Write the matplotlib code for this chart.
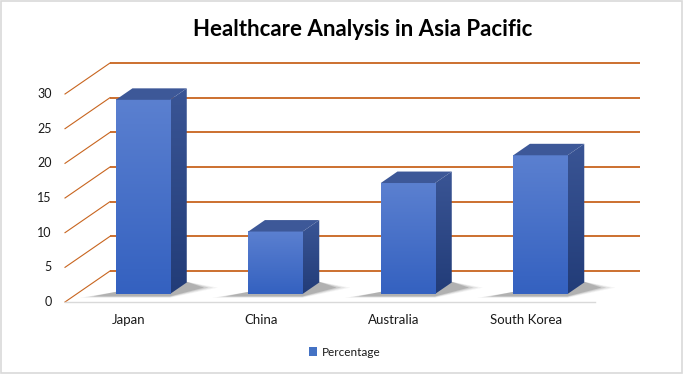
import numpy as np
import matplotlib
matplotlib.use("Agg")
import matplotlib.pyplot as plt
from matplotlib.patches import Polygon, Rectangle, Patch
from matplotlib.colors import LinearSegmentedColormap

# ---------------- data ----------------
categories = ["Japan", "China", "Australia", "South Korea"]
values = [28, 9, 16, 20]
series_name = "Percentage"
yticks = [0, 5, 10, 15, 20, 25, 30]
title = "Healthcare Analysis in Asia Pacific"

# ---------------- figure / projection ----------------
W, H = 696, 387
fig = plt.figure(figsize=(W / 100, H / 100), dpi=100)
ax = fig.add_axes([0, 0, 1, 1])
ax.set_axis_off()

X0, PXC = 65.0, 132.5     # front-left floor pixel x, pixels per category
Y0, PXU = 302.0, 6.933    # front floor pixel y (from top), pixels per value unit
ax.set_xlim(-X0 / PXC - 0.5, (W - X0) / PXC - 0.5)
ax.set_ylim((Y0 - H) / PXU, Y0 / PXU)

DX, DY = 45 / PXC, 31 / PXU   # full depth offset in data units
n = len(categories)
xl, xr = -0.5, n - 0.5

grid_c = "#c8651f"
for v in yticks:
    ax.plot([xl + DX, xr + DX], [v + DY, v + DY], color=grid_c, lw=1.3,
            solid_capstyle="butt", zorder=1)
    ax.plot([xl, xl + DX], [v, v + DY], color=grid_c, lw=0.8, zorder=1)
    ax.text(xl - 0.1, v, str(v), ha="right", va="center", fontsize=9,
            family="Lato", color="#1a1a1a")
ax.plot([xl, xr], [0, 0], color="#d9d9d9", lw=1.0, zorder=1)

# ---------------- bars ----------------
d0, dd = 0.26, 0.37
bw = 0.41
front_cmap = LinearSegmentedColormap.from_list("f", ["#3461c0", "#5b80d0"])
side_cmap = LinearSegmentedColormap.from_list("s", ["#223c78", "#3a5595"])
grad = np.linspace(0, 1, 256).reshape(-1, 1)

for i, v in enumerate(values):
    ox, oy = d0 * DX, d0 * DY
    bx, by = dd * DX, dd * DY
    L = i + ox - bw / 2
    R = i + ox + bw / 2
    B = oy
    T = oy + v
    # soft shadow on the floor
    for k, a in enumerate([0.05, 0.08, 0.12, 0.18]):
        g = (3 - k) * 0.035
        shp = [(L - 0.17 - g, B - 0.35 - g * 2), (R, B - 0.35 - g * 2),
               (R + bx + 0.13 + g, B + by * 0.55), (R + bx, B + by + 0.1),
               (L, B + 0.3)]
        ax.add_patch(Polygon(shp, closed=True, fc="#303030", ec="none",
                             alpha=a, zorder=2))
    im = ax.imshow(grad, cmap=front_cmap, origin="lower", aspect="auto",
                   extent=(L, R, B, T), zorder=4, interpolation="bilinear")
    side = Polygon([(R, B), (R + bx, B + by), (R + bx, T + by), (R, T)],
                   closed=True, fc="none", ec="none")
    ax.add_patch(side)
    ims = ax.imshow(grad, cmap=side_cmap, origin="lower", aspect="auto",
                    extent=(R, R + bx, B, T + by), zorder=3,
                    interpolation="bilinear")
    ims.set_clip_path(side)
    ax.add_patch(Polygon([(L, T), (R, T), (R + bx, T + by), (L + bx, T + by)],
                         closed=True, fc="#3d5898", ec="none", zorder=5))
    ax.text(i - 0.02, -2.6, categories[i], ha="center", va="center",
            fontsize=9.5, family="Lato", color="#1a1a1a")

# ---------------- title, legend, border ----------------
fig.text(363 / W, 1 - 29 / H, title, ha="center", va="center",
         fontsize=16, fontweight="bold", family="Lato", color="#000000")

fig.legend(handles=[Patch(fc="#4472c4", ec="none", label=series_name)],
           loc="center", bbox_to_anchor=(345 / W, 1 - 352 / H), frameon=False,
           prop={"family": "Lato", "size": 8.5}, handlelength=0.7,
           handleheight=0.7, handletextpad=0.4, labelcolor="#1a1a1a")

fig.add_artist(Rectangle((0.7 / W, 1 - 373 / H), 681 / W, 372.3 / H,
                         transform=fig.transFigure, fill=False,
                         ec="#d9d9d9", lw=1.2))

fig.savefig("out.png", dpi=100)
